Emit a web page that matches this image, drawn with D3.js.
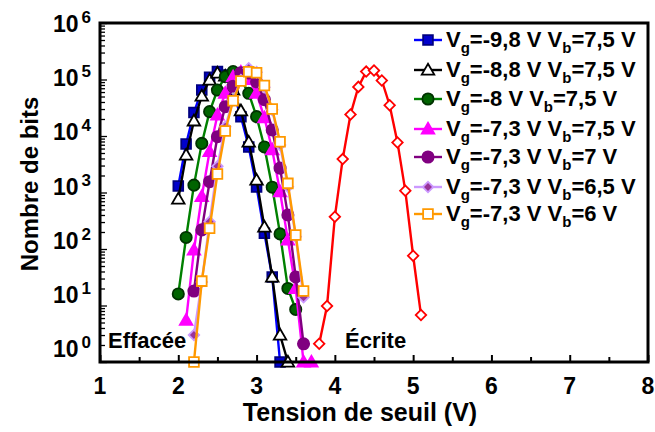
<!DOCTYPE html>
<html><head><meta charset="utf-8">
<script src="https://cdn.jsdelivr.net/npm/d3@7"></script>
<style>body{margin:0;background:#fff}svg{display:block}text{font-family:"Liberation Sans",Arial,sans-serif;font-weight:bold}</style>
</head><body><svg id="c" width="655" height="432"></svg>
<script>
// ---- data ----
const xTickValues = [1, 2, 3, 4, 5, 6, 7, 8];
const yTickExponents = [0, 1, 2, 3, 4, 5, 6];

const x_vg98 = [2.0,2.1,2.2,2.3,2.4,2.5,2.6,2.7,2.8,2.9,3.0,3.1,3.2,3.3];
const y_vg98 = [1300,7200,26000,65000,110000,138000,120000,60000,22000,6400,1250,190,32,1];

const x_vg88 = [2.0,2.1,2.2,2.3,2.4,2.5,2.6,2.7,2.8,2.9,3.0,3.1,3.2,3.3,3.4];
const y_vg88 = [770,4600,18500,51000,98000,130000,115000,65000,28000,7800,1660,245,32,3,1];

const x_vg80 = [2.0,2.1,2.2,2.3,2.4,2.5,2.6,2.7,2.8,2.9,3.0,3.1,3.2,3.3,3.4,3.5];
const y_vg80 = [16,160,1350,7400,27000,65000,112000,138000,100000,57000,22000,6400,1240,185,20,8.5];

const x_vb75 = [2.1,2.2,2.3,2.4,2.5,2.6,2.7,2.8,2.9,3.0,3.1,3.2,3.3,3.4,3.5,3.6,3.7];
const y_vb75 = [5.5,96,850,5300,23500,57000,112000,135000,100000,57000,21000,5700,1030,145,20,1,1];

const x_vb70 = [2.2,2.3,2.4,2.5,2.6,2.7,2.8,2.9,3.0,3.1,3.2,3.3,3.4,3.5,3.6];
const y_vb70 = [18,218,1550,9700,33000,76000,132000,130000,91000,44000,12800,2700,400,32,2.1];

const x_vb65 = [2.2,2.3,2.4,2.5,2.6,2.7,2.8,2.9,3.0,3.1,3.2,3.3,3.4,3.5,3.6];
const y_vb65 = [3,26,303,2900,14600,43000,98000,158000,135000,73000,29000,6900,1260,165,14];

const x_vb60 = [2.2,2.3,2.4,2.5,2.6,2.7,2.8,2.9,3.0,3.1,3.2,3.3,3.4,3.5,3.6];
const y_vb60 = [1,27,233,2130,12300,42000,94000,137000,132000,78000,30000,7900,1450,177,18];

const x_ecrite = [3.8,3.9,4.0,4.1,4.2,4.3,4.4,4.5,4.6,4.7,4.8,4.9,5.0,5.1];
const y_ecrite = [2.1,9.8,372,3900,24000,74000,138000,144000,96000,35000,7700,1070,76,6.8];

const legendVg = ["-9,8", "-8,8", "-8", "-7,3", "-7,3", "-7,3", "-7,3"];
const legendVb = ["7,5", "7,5", "7,5", "7,5", "7", "6,5", "6"];

// ---- styles ----
const styles = [
  {x: x_vg98, y: y_vg98, line: "#0000ff", fill: "#0000cc", stroke: "#000080", sym: "square"},
  {x: x_vg88, y: y_vg88, line: "#000000", fill: "#ffffff", stroke: "#000000", sym: "triangle"},
  {x: x_vg80, y: y_vg80, line: "#008000", fill: "#006400", stroke: "#003300", sym: "circle"},
  {x: x_vb75, y: y_vb75, line: "#ff00ff", fill: "#ff00ff", stroke: "#ff00ff", sym: "triangle"},
  {x: x_vb70, y: y_vb70, line: "#800080", fill: "#800080", stroke: "#800080", sym: "circle"},
  {x: x_vb65, y: y_vb65, line: "#cc99ff", fill: "#993399", stroke: "#cc99ff", sym: "diamond"},
  {x: x_vb60, y: y_vb60, line: "#ff9900", fill: "#ffffff", stroke: "#ff9900", sym: "square"},
  {x: x_ecrite, y: y_ecrite, line: "#ff0000", fill: "#ffffff", stroke: "#ff0000", sym: "diamond"}
];

const svg = d3.select("#c");
const L = 100, R = 648, T = 23, B = 362;
const x = d3.scaleLinear().domain([1, 8]).range([L, R]);
const y = d3.scaleLog().domain([1, 1e6]).range([B, T]);
const yLab = d3.scaleLinear().domain([0, 6]).range([357, 32]);

function symPath(s) {
  if (s === "square") return d3.symbol(d3.symbolSquare, 95)();
  if (s === "triangle") return d3.symbol(d3.symbolTriangle, 68)();
  if (s === "circle") return d3.symbol(d3.symbolCircle, 100)();
  if (s === "diamond") return d3.symbol(d3.symbolSquare, 55)();
}
function drawMarker(g, s, st) {
  g.append("path").attr("d", symPath(s))
    .attr("transform", (s === "diamond" ? "rotate(45)" : "") + (s === "triangle" ? " translate(0,1)" : ""))
    .attr("fill", st.fill).attr("stroke", st.stroke).attr("stroke-width", 1.8);
}

// axes ticks (inward)
const xAxis = d3.axisBottom(x).tickValues(d3.range(1, 8.01, 0.5)).tickSize(-6).tickFormat("");
const gx = svg.append("g").attr("transform", `translate(0,${B})`).call(xAxis);
gx.selectAll(".tick line").attr("stroke", "#000").attr("stroke-width", 2)
  .attr("y2", d => Number.isInteger(d) ? -7 : -5);
gx.select(".domain").remove();

const minorY = [];
for (let e = 0; e < 6; e++) for (let m = 1; m <= 9; m++) minorY.push(m * Math.pow(10, e));
minorY.push(1e6);
const yAxis = d3.axisLeft(y).tickValues(minorY).tickSize(-4).tickFormat("");
const gy = svg.append("g").attr("transform", `translate(${L},0)`).call(yAxis);
gy.selectAll(".tick line").attr("stroke", "#000").attr("stroke-width", 1.3)
  .attr("x2", d => (Math.log10(d) % 1 === 0) ? 7 : 5);
gy.select(".domain").remove();

// series
const lineGen = d3.line().x(d => x(d[0])).y(d => y(d[1]));
styles.forEach(st => {
  const pts = st.x.map((v, i) => [v, st.y[i]]);
  svg.append("path").datum(pts).attr("d", lineGen)
    .attr("fill", "none").attr("stroke", st.line).attr("stroke-width", 2.4);
  pts.forEach(p => {
    const g = svg.append("g").attr("transform", `translate(${x(p[0])},${y(p[1])})`);
    drawMarker(g, st.sym, st);
  });
});

// frame
svg.append("rect").attr("x", L).attr("y", T).attr("width", R - L).attr("height", B - T)
  .attr("fill", "none").attr("stroke", "#000").attr("stroke-width", 3);

// tick labels
svg.append("g").selectAll("text").data(xTickValues).join("text")
  .attr("x", d => x(d)).attr("y", 394).attr("text-anchor", "middle")
  .attr("font-size", 23).text(d => d);

const yl = svg.append("g").selectAll("text").data(yTickExponents).join("text")
  .attr("x", 53).attr("y", d => yLab(d)).attr("font-size", 23);
yl.append("tspan").text("10");
yl.append("tspan").attr("dy", -9).attr("font-size", 17).attr("dx", 3).text(d => d);

// axis titles
svg.append("text").attr("x", 360).attr("y", 421).attr("text-anchor", "middle")
  .attr("font-size", 25).text("Tension de seuil (V)");
svg.append("text").attr("transform", "translate(38,184) rotate(-90)").attr("text-anchor", "middle")
  .attr("font-size", 24).text("Nombre de bits");

// annotations
svg.append("text").attr("x", 108).attr("y", 348).attr("font-size", 22).text("Effacée");
svg.append("text").attr("x", 345).attr("y", 348).attr("font-size", 22).text("Écrite");

// legend
const legY = [40, 70, 99, 129, 157, 187, 214];
styles.slice(0, 7).forEach((st, i) => {
  const g = svg.append("g").attr("transform", `translate(0,${legY[i]})`);
  g.append("line").attr("x1", 414).attr("x2", 442).attr("y1", 0).attr("y2", 0)
    .attr("stroke", st.line).attr("stroke-width", 2.4);
  const mg = g.append("g").attr("transform", "translate(428,0)");
  drawMarker(mg, st.sym, st);
  const t = g.append("text").attr("x", 446).attr("y", 7).attr("font-size", 22);
  t.append("tspan").text("V");
  t.append("tspan").attr("font-size", 15).attr("dy", 6).text("g");
  t.append("tspan").attr("dy", -6).text("=" + legendVg[i] + " V V");
  t.append("tspan").attr("font-size", 15).attr("dy", 6).text("b");
  t.append("tspan").attr("dy", -6).text("=" + legendVb[i] + " V");
});
</script></body></html>
